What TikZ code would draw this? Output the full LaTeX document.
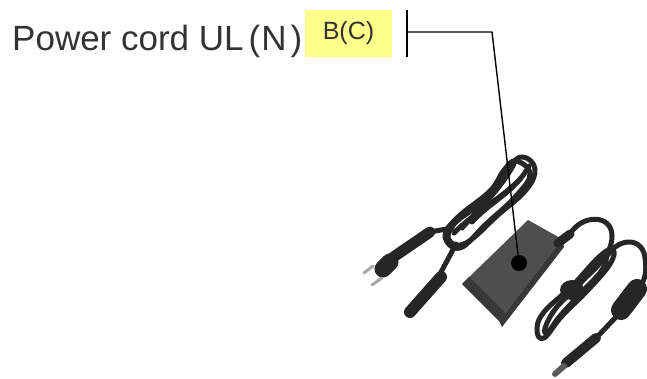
\documentclass[tikz,border=0pt]{standalone}
\usepackage{fontspec}
\setmainfont{Liberation Sans}
\definecolor{txt}{HTML}{333333}
\definecolor{hl}{HTML}{FFFF8C}
\definecolor{cord}{HTML}{262626}
\definecolor{cordlt}{HTML}{5A5A5A}
\definecolor{brick}{HTML}{4E4E4E}
\definecolor{brickdk}{HTML}{383838}
\definecolor{prong}{HTML}{A8A8A8}
\tikzset{
  cordline/.style={draw=cord, line width=5pt, line cap=round, line join=round},
  strand/.style={draw=cord, line width=5pt, line cap=round, line join=round},
  callout/.style={draw=black, line width=1.4pt},
}
\begin{document}
\begin{tikzpicture}[x=1pt,y=-1pt]
\useasboundingbox (0,0) rectangle (647,379);
% ---- labels
\node[anchor=base west, inner sep=0pt, text=txt, font=\fontsize{35}{40}\selectfont] (label) at (12,51) {Power cord UL\kern5pt(\kern1pt N\kern4pt)};
\node[fill=hl, minimum width=87pt, minimum height=47pt, inner sep=0pt, text=txt, font=\fontsize{25}{28}\selectfont] (code) at (348.5,33.5) {B(C)};
% ---- photo: left coil cord
\draw[strand] plot[smooth cycle, tension=0.7] coordinates {(523,157) (535,169) (526,190) (498,215) (466,243) (449,240) (455,223) (486,199) (509,167)};
\draw[strand] plot[smooth cycle, tension=0.7] coordinates {(516,161) (530,174) (516,196) (486,224) (460,248) (445,236) (458,217) (490,191) (504,170)};
\draw[strand] (529,166) .. controls (515,192) and (490,202) .. (472,222);
\draw[strand] (521,178) .. controls (505,196) and (472,214) .. (454,233);
\draw[strand] (514,164) .. controls (500,190) and (478,210) .. (462,228);
% plug cord and plug
\draw[cordline] (452,228) -- (430,232);
\draw[draw=cord, line width=11pt, line cap=round] (430,232) -- (392,258);
\draw[draw=cord, line width=17pt, line cap=round] (390,262) -- (383,269);
\draw[draw=prong, line width=3pt, line cap=round] (373,266) -- (364,273);
\draw[draw=prong, line width=3pt, line cap=round] (382,278) -- (372,285);
% C7 connector
\draw[cordline] (456,244) -- (440,274);
\draw[draw=cord, line width=12pt, line cap=round] (441,277) -- (410,312);
% ---- brick
\fill[brick] (528,220) -- (562,239) -- (499,321) -- (462,284) -- cycle;
\fill[brickdk] (462,284) -- (499,321) -- (505,313) -- (469,277) -- cycle;
\fill[brickdk] (562,239) -- (564,247) -- (502,327) -- (499,321) -- cycle;
% ---- DC cord
\draw[draw=cord, line width=9pt, line cap=round] (558,243) -- (570,234);
\draw[cordline] (570,234) .. controls (582,214) and (612,214) .. (612,236) .. controls (612,256) and (594,270) .. (572,290);
% bundle
\draw[strand] plot[smooth cycle, tension=0.7] coordinates {(537,330) (544,312) (572,286) (600,256) (613,250) (610,264) (588,290) (562,316) (544,338)};
\draw[strand] plot[smooth cycle, tension=0.7] coordinates {(545,328) (556,308) (578,286) (598,262) (606,256) (602,270) (582,292) (560,316) (548,332)};
\fill[cord] (572,290) ellipse [x radius=12pt, y radius=10pt];
% loop to ferrite
\draw[cordline] (607,256) .. controls (620,236) and (643,238) .. (645,258) .. controls (647,272) and (645,280) .. (640,286);
% ferrite core
\draw[draw=cord, line width=20pt, line cap=round] (637,289) -- (621,310);
\draw[cordline] (618,315) -- (596,338);
% DC plug
\draw[draw=cord, line width=10pt, line cap=round] (596,338) -- (566,363);
\draw[draw=cordlt, line width=6pt, line cap=round] (564,366) -- (555,374);
% ---- callout
\coordinate (bartop) at (407,10);
\coordinate (barbot) at (407,57);
\coordinate (barmid) at (407,32);
\coordinate (bend) at (492,32);
\node[circle, fill=black, minimum size=16pt, inner sep=0pt] (dot) at (519,263) {};
\draw[callout] (bartop) -- (barbot);
\draw[callout] (barmid) -- (bend) -- (dot.center);
\end{tikzpicture}
\end{document}
